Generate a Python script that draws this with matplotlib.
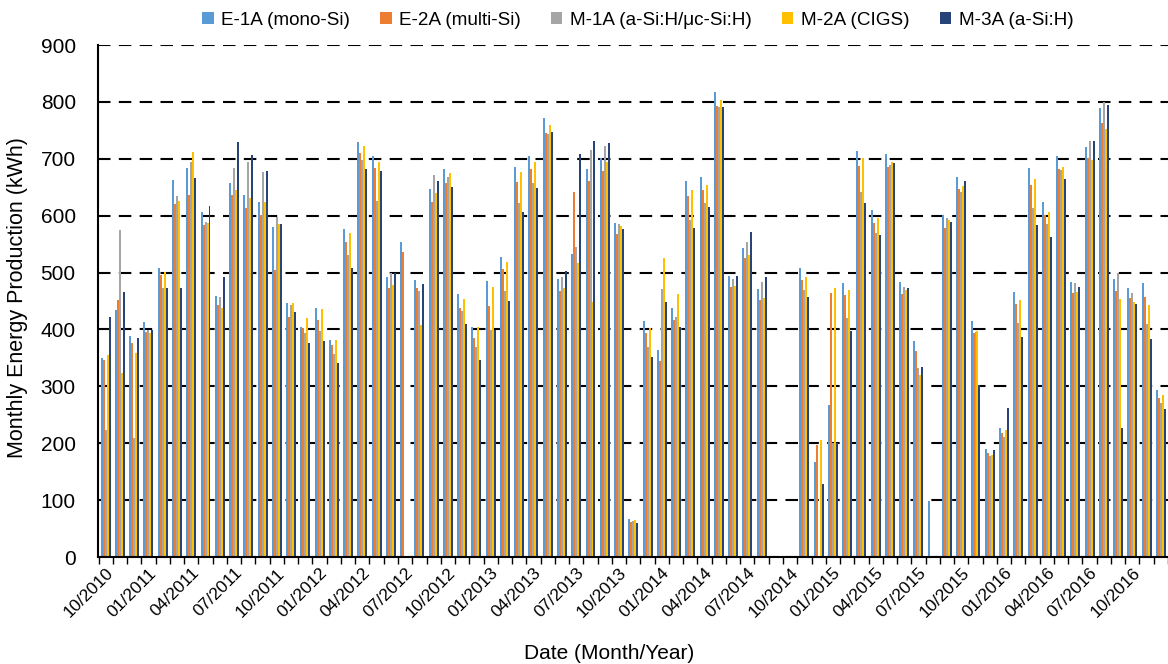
import numpy as np
import matplotlib
matplotlib.use("Agg")
import matplotlib.pyplot as plt

plt.rcParams['font.family'] = ['Liberation Sans', 'DejaVu Sans']

# Monthly values, Oct 2010 .. Dec 2016 (kWh), 0 = no data
e1a = [350, 434, 389, 413, 508, 662, 684, 606, 459, 657, 636, 624, 580, 446, 404, 438,
       381, 577, 730, 705, 492, 554, 487, 647, 682, 462, 404, 485, 527, 686, 705, 772,
       489, 533, 682, 701, 587, 67, 415, 364, 438, 661, 668, 817, 494, 543, 471, 0,
       0, 508, 167, 267, 482, 714, 610, 708, 484, 380, 98, 601, 668, 415, 190, 227,
       466, 684, 624, 705, 484, 721, 789, 489, 473, 482, 294]
e2a = [346, 452, 376, 396, 496, 620, 636, 584, 443, 636, 614, 601, 505, 422, 402, 417,
       373, 554, 710, 684, 473, 536, 473, 624, 657, 438, 385, 441, 506, 659, 682, 746,
       468, 642, 661, 679, 568, 62, 394, 345, 417, 635, 645, 793, 475, 526, 452, 0,
       0, 487, 197, 464, 461, 687, 587, 686, 462, 362, 0, 578, 647, 394, 183, 218,
       445, 654, 601, 682, 464, 701, 763, 468, 455, 457, 280]
m1a = [223, 575, 209, 399, 473, 635, 694, 589, 457, 684, 694, 677, 598, 443, 394, 397,
       357, 531, 698, 626, 499, 0, 468, 672, 668, 433, 369, 399, 468, 622, 657, 744,
       492, 545, 715, 722, 585, 64, 369, 471, 422, 592, 622, 791, 489, 554, 483, 0,
       0, 469, 0, 200, 420, 642, 570, 689, 475, 332, 0, 596, 642, 396, 178, 211,
       411, 613, 585, 680, 482, 731, 800, 499, 464, 410, 270]
m2a = [355, 323, 358, 394, 501, 625, 712, 587, 438, 645, 631, 624, 585, 447, 420, 436,
       381, 570, 722, 694, 478, 0, 408, 640, 675, 454, 404, 475, 519, 677, 694, 759,
       473, 517, 448, 694, 582, 65, 402, 526, 462, 645, 654, 803, 476, 531, 455, 0,
       0, 492, 206, 473, 469, 701, 596, 694, 470, 320, 0, 592, 652, 397, 179, 223,
       452, 664, 606, 686, 466, 698, 752, 454, 448, 443, 285]
m3a = [422, 466, 385, 399, 473, 473, 666, 617, 492, 730, 707, 679, 585, 431, 376, 380,
       341, 508, 682, 679, 499, 0, 480, 661, 650, 410, 346, 399, 450, 607, 649, 747,
       503, 708, 731, 728, 577, 60, 352, 448, 404, 578, 615, 791, 494, 571, 492, 0,
       0, 457, 128, 200, 397, 622, 566, 692, 473, 334, 0, 589, 661, 302, 188, 262,
       387, 584, 563, 665, 475, 731, 795, 227, 445, 383, 260]

series = [
    ("E-1A (mono-Si)", e1a, "#5B9BD5"),
    ("E-2A (multi-Si)", e2a, "#ED7D31"),
    ("M-1A (a-Si:H/\u03bcc-Si:H)", m1a, "#A5A5A5"),
    ("M-2A (CIGS)", m2a, "#FFC000"),
    ("M-3A (a-Si:H)", m3a, "#264478"),
]

months = np.arange(len(e1a))
tick_pos = months[::3]
tick_labels = []
for k in tick_pos:
    m = (9 + k) % 12 + 1
    y = 2010 + (9 + k) // 12
    tick_labels.append("%02d/%d" % (m, y))

fig = plt.figure(figsize=(11.68, 6.64), dpi=100)
ax = fig.add_axes([0.0839, 0.1611, 0.9161, 0.7711])

w = 0.14
offsets = [-2 * w, -w, 0, w, 2 * w]
handles = []
for (name, vals, col), off in zip(series, offsets):
    h = ax.bar(months + off, vals, width=w, color=col, label=name, linewidth=0)
    handles.append(h)

ax.set_xlim(-0.54, 73.9)
ax.set_ylim(0, 900)
ax.set_yticks(np.arange(0, 901, 100))
ax.set_xticks(tick_pos)
ax.set_xticklabels(tick_labels, rotation=45, ha='right', rotation_mode='anchor', fontsize=12.5)
ax.set_xticks(np.arange(-0.5, 75, 1), minor=True)
ax.tick_params(axis='x', which='major', length=0, pad=6)
ax.tick_params(axis='x', which='minor', length=5, width=1, direction='out')
ax.tick_params(axis='y', length=0, labelsize=15, pad=16)

ax.yaxis.grid(True, linestyle=(0, (6, 4)), color='black', linewidth=1.5)
ax.set_axisbelow(True)
for s in ['top', 'right']:
    ax.spines[s].set_visible(False)
for s in ['left', 'bottom']:
    ax.spines[s].set_linewidth(1.5)
    ax.spines[s].set_color('black')

ax.set_ylabel("Monthly Energy Production (kWh)", fontsize=15.5)
ax.yaxis.set_label_coords(-0.065, 0.506)
ax.set_xlabel("Date (Month/Year)", fontsize=15)
ax.xaxis.set_label_coords(0.478, -0.17)

fig.legend(handles=handles, loc='upper center', bbox_to_anchor=(0.546, 1.008), ncol=5,
           frameon=False, fontsize=13.6, handlelength=0.6, handleheight=0.6,
           handletextpad=0.4, columnspacing=1.6)

fig.savefig("out.png", dpi=100)
